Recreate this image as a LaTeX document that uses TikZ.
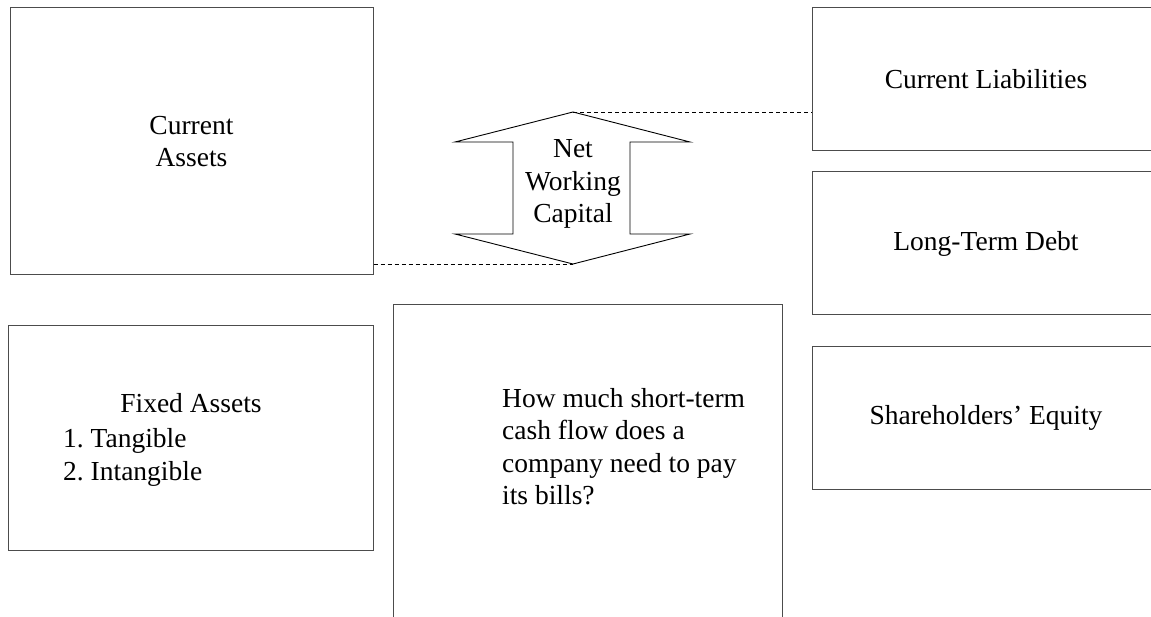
\documentclass[tikz,border=0pt]{standalone}
\usepackage{fontspec}
\setmainfont{Liberation Serif}
\newcommand\mainfs{\fontsize{27.5}{32.5}\selectfont\frenchspacing}
\begin{document}
\begin{tikzpicture}[x=1pt,y=-1pt,
  box/.style={draw=black!70, line width=1pt, rectangle, inner sep=0pt, align=center, font=\mainfs},
  txt/.style={inner sep=0pt, font=\mainfs},
  arrowline/.style={draw=black, line width=0.9pt, line join=miter},
  dashline/.style={draw=black, line width=0.8pt, dash pattern=on 4pt off 3pt}]
\useasboundingbox (0,0) rectangle (1151,617);
\clip (0,0) rectangle (1151,617);
% left column
\node[box, minimum width=363pt, minimum height=267pt] (ca) at (191.5,141.5) {Current\\Assets};
\node[box, minimum width=365pt, minimum height=224pt] (fa) at (190.5,438) {};
\node[txt, anchor=base] (fat) at (191,413) {Fixed Assets};
\node[txt, anchor=base west] (fa1) at (63,447) {1. Tangible};
\node[txt, anchor=base west] (fa2) at (63,480) {2. Intangible};
% right column
\node[box, minimum width=348pt, minimum height=143pt] (cl) at (986,79.5) {Current Liabilities};
\node[box, minimum width=348pt, minimum height=143pt] (ltd) at (986,243.5) {Long-Term Debt};
\node[box, minimum width=348pt, minimum height=142pt] (se) at (986,418) {Shareholders’ Equity};
% question box
\node[box, minimum width=389pt, minimum height=400pt] (q) at (587.5,505) {};
\node[txt, anchor=north west, align=left] (qt) at (502,388) {How much short-term\\cash flow does a\\company need to pay\\its bills?};
% double arrow
\node[txt, align=center] (nwc) at (573,184) {Net\\Working\\Capital};
\coordinate (top) at (573,112);
\coordinate (bot) at (573,264);
\draw[arrowline] (top) -- (690,142) -- (630,142) -- (630,234) -- (690,234) -- (bot)
  -- (455,234) -- (513,234) -- (513,142) -- (455,142) -- cycle;
\draw[dashline] (top) -- (top -| cl.west);
\draw[dashline] (ca.east |- bot) -- (bot);
\end{tikzpicture}
\end{document}
